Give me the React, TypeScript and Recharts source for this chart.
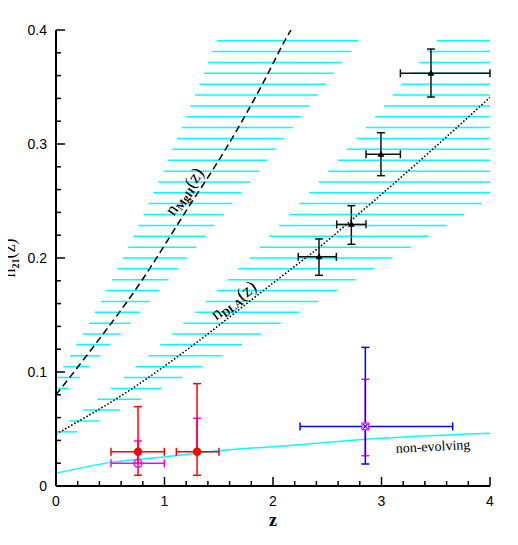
import React from "react";
import {
  ComposedChart,
  Line,
  Scatter,
  XAxis,
  YAxis,
  ErrorBar,
  ReferenceLine,
  Label,
} from "recharts";

// n21 level of every cyan hatch stroke, top to bottom
const hatchN = [
  0.3906, 0.3811, 0.3715, 0.362, 0.3525, 0.3429, 0.3334, 0.3239, 0.3144, 0.3048,
  0.2953, 0.2858, 0.2762, 0.2667, 0.2572, 0.2477, 0.2381, 0.2286, 0.2191, 0.2095,
  0.2, 0.1905, 0.1809, 0.1714, 0.1619, 0.1524, 0.1428, 0.1333, 0.1238, 0.1142,
  0.1047, 0.0952, 0.0856, 0.0761, 0.0666, 0.057, 0.0475,
];
// Mg II band: z where each stroke starts / ends (null = no stroke)
const mgBandFrom = [
  1.481, 1.438, 1.401, 1.361, 1.321, 1.281, 1.238, 1.198, 1.159, 1.115,
  1.072, 1.029, 0.989, 0.943, 0.897, 0.851, 0.805, 0.759, 0.712, 0.666,
  0.618, 0.565, 0.516, 0.461, 0.412, 0.359, 0.304, 0.246, 0.187, 0.129,
  0.067, 0.006, 0, 0, null, null, null,
];
const mgBandTo = [
  2.786, 2.716, 2.636, 2.562, 2.488, 2.412, 2.335, 2.258, 2.182, 2.101,
  2.025, 1.945, 1.874, 1.788, 1.705, 1.625, 1.546, 1.459, 1.376, 1.293,
  1.207, 1.122, 1.035, 0.952, 0.864, 0.774, 0.685, 0.596, 0.5, 0.408,
  0.313, 0.218, 0.117, 0.014, null, null, null,
];
// DLA band
const dlaBandFrom = [
  3.509, 3.431, 3.348, 3.269, 3.186, 3.103, 3.023, 2.94, 2.854, 2.768,
  2.682, 2.596, 2.51, 2.421, 2.332, 2.242, 2.15, 2.058, 1.966, 1.88,
  1.782, 1.68, 1.582, 1.481, 1.382, 1.281, 1.173, 1.072, 0.961, 0.851,
  0.737, 0.624, 0.504, 0.381, 0.255, 0.123, 0,
];
const dlaBandTo = [
  4, 4, 4, 4, 4, 4, 4, 4, 4, 4,
  4, 4, 4, 4, 4, 3.924, 3.763, 3.601, 3.431, 3.269,
  3.1, 2.931, 2.762, 2.59, 2.418, 2.242, 2.071, 1.889, 1.714, 1.533,
  1.352, 1.164, 0.974, 0.783, 0.59, 0.396, 0.194,
];

// model curves
const mgCurveZ = [0, 0.344, 0.768, 1.204, 1.573, 1.911, 2.111, 2.165];
const mgCurveN = [0.08, 0.122, 0.177, 0.242, 0.297, 0.354, 0.391, 0.4];
const dlaCurveZ = [0, 0.682, 1.266, 1.757, 2.095, 2.433, 2.832, 3.186, 3.601, 4];
const dlaCurveN = [0.0455, 0.0842, 0.1237, 0.16, 0.185, 0.2099, 0.2421, 0.2713, 0.3064, 0.341];
const flatZ = [0, 0.49, 1.014, 1.505, 2.157, 2.765, 4];
const flatN = [0.0111, 0.0205, 0.0257, 0.031, 0.0355, 0.0404, 0.0462];

// black triangles (DLA based)
const triZ = [2.424, 2.722, 2.995, 3.456];
const triN = [0.201, 0.2295, 0.291, 0.362];
const triZLo = [2.233, 2.587, 2.857, 3.174];
const triZHi = [2.584, 2.857, 3.174, 4.0];
const triNLo = [0.1848, 0.212, 0.2722, 0.3412];
const triNHi = [0.2167, 0.2459, 0.3099, 0.3833];

// red filled circles
const redZ = [0.756, 1.3];
const redN = [0.03, 0.03];
const redZLo = [0.507, 1.109];
const redZHi = [0.998, 1.502];
const redNLo = [0.0094, 0.0094];
const redNHi = [0.0696, 0.0898];
const redInnerLo = [0.02, 0.03];
const redInnerHi = [0.0395, 0.0594];

// magenta open circle
const openZ = [0.756];
const openN = [0.0199];
const openZLo = [0.507];
const openZHi = [0.998];

// blue point
const blueZ = [2.851];
const blueN = [0.0523];
const blueZLo = [2.249];
const blueZHi = [3.656];
const blueNLo = [0.0193];
const blueNHi = [0.1216];
const blueInnerLo = [0.0266];
const blueInnerHi = [0.0936];

const xTicks = [0, 0.2, 0.4, 0.6, 0.8, 1, 1.2, 1.4, 1.6, 1.8, 2, 2.2, 2.4, 2.6, 2.8, 3, 3.2, 3.4, 3.6, 3.8, 4];
const yTicks = [
  0, 0.02, 0.04, 0.06, 0.08, 0.1, 0.12, 0.14, 0.16, 0.18, 0.2,
  0.22, 0.24, 0.26, 0.28, 0.3, 0.32, 0.34, 0.36, 0.38, 0.4,
];

const curve = (zs: number[], ns: number[]) => zs.map((z, i) => ({ z, n: ns[i] }));
const points = (zs: number[], ns: number[], zlo: number[], zhi: number[], nlo: number[], nhi: number[]) =>
  zs.map((z, i) => ({ z, n: ns[i], ez: [z - zlo[i], zhi[i] - z], en: [ns[i] - nlo[i], nhi[i] - ns[i]] }));

const hatchSegs: { n: number; from: number; to: number }[] = [];
hatchN.forEach((n, i) => {
  if (mgBandFrom[i] != null) hatchSegs.push({ n, from: mgBandFrom[i] as number, to: mgBandTo[i] as number });
  hatchSegs.push({ n, from: dlaBandFrom[i], to: dlaBandTo[i] });
});

const triData = points(triZ, triN, triZLo, triZHi, triNLo, triNHi);
const redData = points(redZ, redN, redZLo, redZHi, redNLo, redNHi);
const redInner = points(redZ, redN, redZ, redZ, redInnerLo, redInnerHi);
const openData = points(openZ, openN, openZLo, openZHi, openN, openN);
const blueData = points(blueZ, blueN, blueZLo, blueZHi, blueNLo, blueNHi);
const blueInner = points(blueZ, blueN, blueZ, blueZ, blueInnerLo, blueInnerHi);

const SANS = "Liberation Sans, Arial, sans-serif";
const SERIF = "Liberation Serif, Times New Roman, serif";

const isMajor = (v: number, step: number) => Math.abs(v / step - Math.round(v / step)) < 1e-6;

const tickRenderer = (side: "bottom" | "top" | "left" | "right") => (props: any) => {
  const { x, y, payload } = props;
  const v = payload.value as number;
  const major = side === "bottom" || side === "top" ? isMajor(v, 1) : isMajor(v, 0.1);
  const len = major ? 9 : 5;
  let line;
  if (side === "bottom") line = <line x1={x} y1={y} x2={x} y2={y - len} />;
  else if (side === "top") line = <line x1={x} y1={y} x2={x} y2={y + len} />;
  else if (side === "left") line = <line x1={x} y1={y} x2={x + len} y2={y} />;
  else line = <line x1={x} y1={y} x2={x - len} y2={y} />;
  return (
    <g stroke="#000" strokeWidth={1.5}>
      {line}
      {major && side === "bottom" && (
        <text x={x} y={y + 20} textAnchor="middle" stroke="none" fill="#000" fontFamily={SANS} fontSize={14}>
          {String(v)}
        </text>
      )}
      {major && side === "left" && (
        <text x={x - 9} y={y + 5} textAnchor="end" stroke="none" fill="#000" fontFamily={SANS} fontSize={14}>
          {v === 0 ? "0" : v.toFixed(1)}
        </text>
      )}
    </g>
  );
};

const Triangle = ({ cx, cy }: any) => (
  <polygon points={`${cx - 3.5},${cy + 2.5} ${cx + 3.5},${cy + 2.5} ${cx},${cy - 3.5}`} fill="#000" />
);
const RedDot = ({ cx, cy }: any) => <circle cx={cx} cy={cy} r={4.2} fill="#ff0000" />;
const OpenDot = ({ cx, cy }: any) => (
  <circle cx={cx} cy={cy} r={4} fill="none" stroke="#ff00ff" strokeWidth={1.5} />
);
const BlueMark = ({ cx, cy }: any) => (
  <g>
    <rect x={cx - 3.3} y={cy - 3.3} width={6.6} height={6.6} fill="#fff" stroke="#ff00ff" strokeWidth={1.3} />
    <path d={`M${cx - 2.2},${cy - 2.2}L${cx + 2.2},${cy + 2.2}M${cx - 2.2},${cy + 2.2}L${cx + 2.2},${cy - 2.2}`} stroke="#0000ff" strokeWidth={1.2} />
  </g>
);
const Nothing = () => <g />;

const MgLabel = ({ cx, cy }: any) => (
  <text x={cx} y={cy + 5} transform={`rotate(-55 ${cx} ${cy})`} textAnchor="middle" fontFamily={SERIF} fontSize={18} fill="#000">
    n
    <tspan fontSize={11} fontWeight="bold" dy={3}>MgII</tspan>
    <tspan dy={-3}>(z)</tspan>
  </text>
);
const DlaLabel = ({ cx, cy }: any) => (
  <text x={cx} y={cy + 5} transform={`rotate(-37 ${cx} ${cy})`} textAnchor="middle" fontFamily={SERIF} fontSize={18} fill="#000">
    n
    <tspan fontSize={11} fontWeight="bold" dy={3}>DLA</tspan>
    <tspan dy={-3}>(z)</tspan>
  </text>
);
const FlatLabel = ({ cx, cy }: any) => (
  <text x={cx} y={cy + 4} transform={`rotate(-3 ${cx} ${cy})`} textAnchor="middle" fontFamily={SERIF} fontSize={14} fill="#000">
    non-evolving
  </text>
);

const YTitle = ({ viewBox }: any) => {
  const x = viewBox.x - 1;
  const y = viewBox.y + viewBox.height / 2;
  return (
    <text x={x} y={y} transform={`rotate(-90 ${x} ${y})`} textAnchor="middle" fontFamily={SERIF} fontSize={18} fill="#000">
      n
      <tspan fontSize={10} fontWeight="bold" dy={4}>21</tspan>
      <tspan dy={-4}>(z)</tspan>
    </text>
  );
};
const XTitle = ({ viewBox }: any) => (
  <text x={viewBox.x + viewBox.width / 2} y={viewBox.y + 40} textAnchor="middle" fontFamily={SERIF} fontWeight="bold" fontSize={18} fill="#000">
    z
  </text>
);

export default function App() {
  const axisLine = { stroke: "#000", strokeWidth: 2 };
  return (
    <div style={{ width: 518, height: 545, margin: -8 }}>
      <ComposedChart width={518} height={545} margin={{ top: 30, right: 28, bottom: 29, left: 16 }}>
        <XAxis
          type="number"
          dataKey="z"
          domain={[0, 4]}
          ticks={xTicks}
          interval={0}
          allowDataOverflow
          tickLine={false}
          tickSize={0}
          tickMargin={0}
          axisLine={axisLine}
          height={30}
          tick={tickRenderer("bottom")}
        >
          <Label content={XTitle} />
        </XAxis>
        <XAxis
          xAxisId="top"
          orientation="top"
          type="number"
          domain={[0, 4]}
          ticks={xTicks}
          interval={0}
          allowDataOverflow
          tickLine={false}
          tickSize={0}
          tickMargin={0}
          axisLine={axisLine}
          height={0}
          tick={tickRenderer("top")}
        />
        <YAxis
          type="number"
          dataKey="n"
          domain={[0, 0.4]}
          ticks={yTicks}
          interval={0}
          allowDataOverflow
          tickLine={false}
          tickSize={0}
          tickMargin={0}
          axisLine={axisLine}
          width={40}
          tick={tickRenderer("left")}
        >
          <Label content={YTitle} />
        </YAxis>
        <YAxis
          yAxisId="right"
          orientation="right"
          type="number"
          domain={[0, 0.4]}
          ticks={yTicks}
          interval={0}
          allowDataOverflow
          tickLine={false}
          tickSize={0}
          tickMargin={0}
          axisLine={axisLine}
          width={0}
          tick={tickRenderer("right")}
        />

        {hatchSegs.map((s, i) => (
          <ReferenceLine
            key={`hatch-${i}`}
            segment={[{ x: s.from, y: s.n }, { x: s.to, y: s.n }]}
            stroke="#00ffff"
            strokeWidth={1.5}
            ifOverflow="visible"
          />
        ))}

        <Line data={curve(flatZ, flatN)} dataKey="n" type="monotone" stroke="#00ffff" strokeWidth={1.5} dot={false} isAnimationActive={false} />
        <Line data={curve(mgCurveZ, mgCurveN)} dataKey="n" type="monotone" stroke="#000" strokeWidth={1.5} strokeDasharray="7 4" dot={false} isAnimationActive={false} />
        <Line data={curve(dlaCurveZ, dlaCurveN)} dataKey="n" type="monotone" stroke="#000" strokeWidth={1.6} strokeDasharray="1.5 2" dot={false} isAnimationActive={false} />

        <Scatter data={triData} dataKey="n" shape={Triangle} isAnimationActive={false}>
          <ErrorBar dataKey="ez" direction="x" width={4} stroke="#111" strokeWidth={1.5} />
          <ErrorBar dataKey="en" direction="y" width={4} stroke="#111" strokeWidth={1.5} />
        </Scatter>

        <Scatter data={redInner} dataKey="n" shape={Nothing} isAnimationActive={false}>
          <ErrorBar dataKey="en" direction="y" width={4} stroke="#ff00ff" strokeWidth={1.5} />
        </Scatter>
        <Scatter data={openData} dataKey="n" shape={OpenDot} isAnimationActive={false}>
          <ErrorBar dataKey="ez" direction="x" width={4} stroke="#ff00ff" strokeWidth={1.5} />
        </Scatter>
        <Scatter data={redData} dataKey="n" shape={RedDot} isAnimationActive={false}>
          <ErrorBar dataKey="ez" direction="x" width={4} stroke="#ff0000" strokeWidth={1.5} />
          <ErrorBar dataKey="en" direction="y" width={4} stroke="#ff0000" strokeWidth={1.5} />
        </Scatter>

        <Scatter data={blueInner} dataKey="n" shape={Nothing} isAnimationActive={false}>
          <ErrorBar dataKey="en" direction="y" width={4} stroke="#ff00ff" strokeWidth={1.5} />
        </Scatter>
        <Scatter data={blueData} dataKey="n" shape={BlueMark} isAnimationActive={false}>
          <ErrorBar dataKey="ez" direction="x" width={4} stroke="#0000ff" strokeWidth={1.5} />
          <ErrorBar dataKey="en" direction="y" width={4} stroke="#0000ff" strokeWidth={1.5} />
        </Scatter>

        <Scatter data={[{ z: 1.189, n: 0.258 }]} dataKey="n" shape={MgLabel} isAnimationActive={false} />
        <Scatter data={[{ z: 1.641, n: 0.1623 }]} dataKey="n" shape={DlaLabel} isAnimationActive={false} />
        <Scatter data={[{ z: 3.475, n: 0.0342 }]} dataKey="n" shape={FlatLabel} isAnimationActive={false} />
      </ComposedChart>
    </div>
  );
}
